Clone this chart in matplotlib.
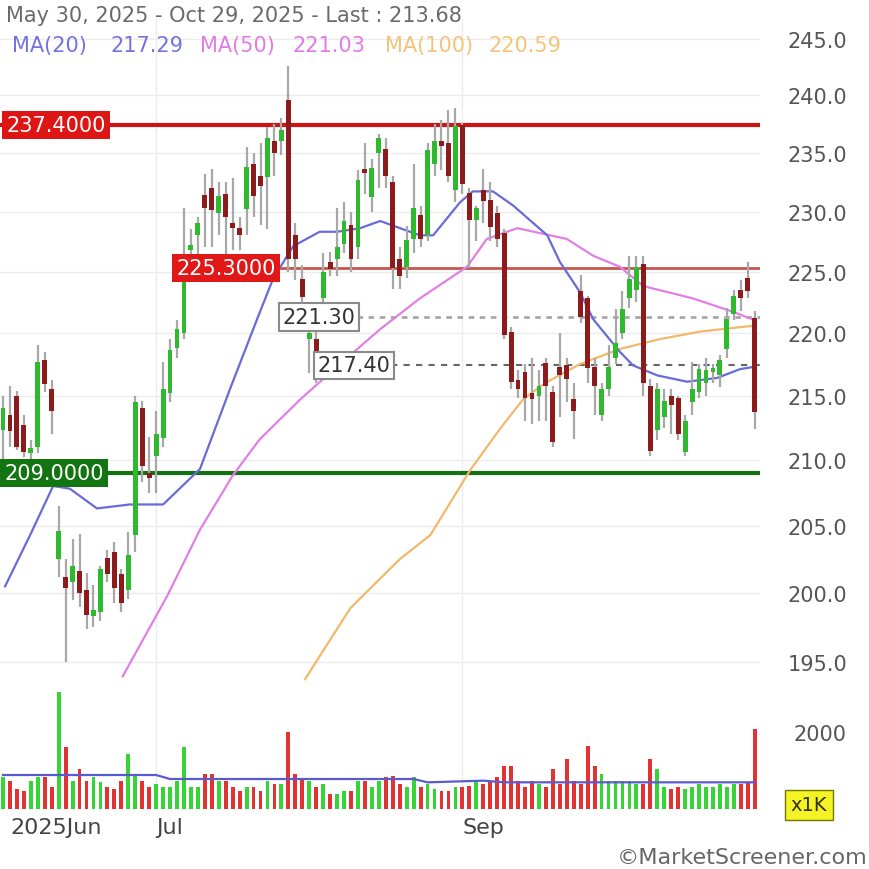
import numpy as np
import pandas as pd
import matplotlib
matplotlib.use("Agg")
import matplotlib.pyplot as plt
import matplotlib.transforms as mtransforms
from matplotlib.ticker import FixedLocator, NullLocator, FuncFormatter

# ---------------- data ----------------
dates = pd.bdate_range("2025-05-30", "2025-10-29")

opens = [212.3, 213.5, 215.0, 212.7, 210.5, 211.0, 217.8, 215.5, 202.5, 201.2,
         200.8, 201.6, 200.2, 198.3, 198.6, 202.6, 203.0, 201.4, 200.2, 204.3,
         214.0, 209.0, 210.3, 211.7, 215.2, 218.8, 220.0, 226.8, 228.0, 231.4,
         232.0, 229.9, 231.5, 229.0, 228.6, 230.2, 234.0, 233.0, 232.9, 236.0,
         236.0, 239.6, 228.0, 224.4, 219.5, 219.5, 222.8, 225.8, 226.0, 227.3,
         228.9, 227.0, 233.6, 231.2, 235.0, 235.3, 232.5, 226.0, 225.4, 227.7,
         229.7, 228.0, 234.0, 236.0, 235.8, 231.8, 237.4, 231.6, 229.3, 231.8,
         231.0, 229.9, 228.2, 220.1, 216.2, 216.9, 215.2, 215.0, 217.6, 215.3,
         217.3, 217.4, 214.7, 223.4, 222.8, 217.3, 213.5, 215.5, 218.0, 220.0,
         222.8, 223.5, 225.6, 215.8, 212.3, 213.3, 215.0, 214.8, 210.6, 214.5,
         215.3, 216.0, 216.9, 216.6, 218.7, 221.5, 223.5, 224.5, 221.2]
highs = [215.0, 215.8, 215.4, 213.5, 211.5, 219.0, 218.5, 216.2, 206.5, 202.5,
         204.0, 204.4, 201.5, 200.6, 202.0, 203.2, 203.8, 201.8, 204.5, 215.0,
         214.6, 211.8, 213.8, 217.7, 219.5, 221.0, 230.3, 228.5, 229.5, 233.2,
         233.6, 232.5, 232.5, 232.8, 229.5, 235.5, 235.0, 235.8, 237.2, 237.5,
         238.0, 242.6, 229.0, 225.5, 220.5, 220.3, 226.5, 226.6, 230.3, 230.8,
         230.0, 233.5, 235.8, 234.5, 236.6, 236.3, 233.0, 227.0, 228.8, 234.0,
         230.5, 235.8, 237.5, 237.8, 238.7, 238.9, 237.6, 232.0, 230.5, 233.6,
         232.5, 230.5, 228.5, 220.5, 217.0, 217.5, 218.0, 217.0, 218.0, 215.8,
         220.0, 218.0, 216.0, 224.7, 223.0, 218.0, 216.0, 219.0, 221.9, 223.4,
         226.3, 226.3, 226.3, 216.3, 216.0, 215.5, 215.5, 215.0, 213.5, 217.7,
         217.5, 218.0, 217.5, 218.2, 222.0, 223.5, 224.3, 225.8, 221.8]
lows = [209.3, 211.0, 210.8, 210.2, 209.8, 210.5, 215.3, 212.0, 201.2, 195.0,
        199.5, 199.0, 197.4, 197.5, 198.0, 200.8, 199.3, 198.6, 199.6, 203.0,
        208.3, 207.5, 207.5, 211.0, 214.5, 218.0, 219.5, 225.5, 226.0, 227.0,
        227.0, 228.0, 226.0, 226.8, 226.8, 228.0, 229.5, 228.9, 228.5, 233.0,
        234.8, 225.0, 224.3, 222.0, 216.8, 216.0, 221.5, 224.6, 224.6, 226.5,
        225.0, 226.0, 231.5, 230.0, 232.0, 232.0, 223.6, 223.6, 224.5, 226.5,
        227.0, 227.5, 233.0, 233.5, 232.5, 230.8, 231.5, 225.3, 227.5, 229.0,
        227.5, 227.0, 219.5, 215.5, 214.8, 213.0, 212.8, 213.0, 213.0, 211.0,
        213.3, 214.5, 211.6, 220.8, 216.0, 213.5, 213.0, 215.0, 217.5, 219.5,
        222.0, 222.5, 215.0, 210.3, 211.5, 212.5, 212.0, 211.5, 210.3, 213.5,
        214.8, 215.0, 216.0, 215.7, 218.0, 221.0, 221.8, 222.8, 212.4]
closes = [214.0, 212.2, 211.0, 210.6, 210.9, 217.7, 215.9, 213.8, 204.6, 200.4,
          202.0, 200.0, 198.4, 198.8, 201.8, 201.4, 200.4, 199.3, 202.8, 214.5,
          209.5, 208.6, 212.0, 215.5, 218.6, 220.3, 224.5, 227.2, 229.0, 230.3,
          230.1, 231.3, 229.5, 228.6, 228.0, 233.8, 231.3, 232.2, 236.3, 235.0,
          237.0, 226.0, 226.0, 222.9, 220.0, 218.5, 225.0, 225.2, 227.0, 229.2,
          226.0, 232.7, 233.3, 233.7, 236.3, 233.0, 225.3, 224.6, 227.6, 230.3,
          227.7, 235.2, 236.0, 235.6, 233.0, 237.3, 232.3, 229.3, 230.3, 230.9,
          228.7, 227.7, 219.8, 216.1, 215.5, 214.8, 214.7, 215.8, 215.8, 211.4,
          216.6, 216.3, 213.8, 221.3, 217.2, 215.8, 215.5, 217.3, 219.2, 221.9,
          224.4, 225.4, 216.0, 210.7, 215.5, 214.6, 214.3, 212.0, 213.0, 215.5,
          217.1, 217.0, 217.0, 217.8, 221.1, 223.0, 222.8, 223.4, 213.68]
volumes = [823, 736, 520, 476, 736, 823, 823, 563, 3031, 1602,
           736, 1039, 736, 823, 693, 563, 520, 736, 1429, 909,
           736, 563, 650, 563, 563, 736, 1602, 563, 563, 909,
           909, 736, 736, 563, 476, 563, 563, 476, 736, 650,
           650, 1992, 909, 779, 736, 563, 650, 390, 390, 476,
           476, 736, 736, 563, 736, 823, 866, 650, 563, 823,
           563, 650, 520, 476, 476, 563, 563, 606, 736, 650,
           736, 823, 1126, 1126, 736, 563, 736, 650, 563, 1039,
           650, 1299, 736, 650, 1645, 1126, 909, 736, 736, 736,
           736, 650, 650, 1299, 1039, 563, 520, 563, 520, 563,
           650, 563, 563, 650, 563, 650, 650, 693, 2078]

# moving averages (candle index, value)
ma20_idx = [0.3, 3.9, 7.2, 9.6, 13.5, 18.2, 23, 28.3, 32.6, 36.5, 38.8, 41.7, 45.5, 48, 51.3,
            54.2, 59.9, 61.8, 65.7, 67.5, 70.4, 73.3, 78.2, 80, 82.9, 84.8, 88.6, 90.5, 94,
            98.3, 102.6, 105.9, 108]
ma20_val = [200.5, 204.3, 208.0, 207.8, 206.3, 206.6, 206.6, 209.3, 215.5, 221.1, 224.4, 227.1,
            228.3, 228.3, 228.6, 229.2, 228.0, 228.0, 230.8, 231.7, 231.7, 230.5, 228.0, 225.8,
            223.3, 221.1, 218.5, 217.4, 216.6, 216.1, 216.4, 217.1, 217.29]
ma50_idx = [17.2, 23.6, 28.3, 33, 36.9, 42.7, 48.4, 54.2, 59.9, 66.7, 69.5, 73.9, 81, 84.8,
            88.6, 92, 99.1, 104.9, 108]
ma50_val = [194.0, 199.8, 204.7, 208.8, 211.6, 214.7, 217.5, 220.3, 222.8, 225.4, 227.7, 228.6,
            227.7, 226.3, 225.4, 223.8, 222.8, 221.7, 221.03]
ma100_idx = [43.4, 49.9, 57, 61.4, 67.1, 71.4, 74.7, 77.9, 82.9, 88.6, 94.4, 100.1, 108]
ma100_val = [193.8, 198.9, 202.5, 204.3, 209.2, 212.4, 214.7, 216.0, 217.5, 218.7, 219.5,
             220.1, 220.59]
vma_idx = [0, 22, 24, 59, 61, 69, 72, 108]
vma_val = [883, 883, 779, 779, 693, 736, 693, 693]

price_ticks = [195, 200, 205, 210, 215, 220, 225, 230, 235, 240, 245]
month_labels = ["2025Jun", "Jul", "Sep"]
month_dates = ["2025-06-02", "2025-07-01", "2025-09-01"]

level_red_hi = 237.40
level_red_mid = 225.30
level_green = 209.00
level_gray1 = 221.30
level_gray2 = 217.40

# ---------------- figure ----------------
W = H = 870
fig = plt.figure(figsize=(8.7, 8.7), dpi=100)
fig.patch.set_facecolor("white")

def fx(px):
    return px / W

def fy(py):
    return 1 - py / H

ax = fig.add_axes([0, fy(690), fx(760), (690 - 20) / H])
axv = fig.add_axes([0, fy(810), fx(760), 120 / H])

n = len(dates)
xs = np.arange(n)
o = np.array(opens); h = np.array(highs); l = np.array(lows); c = np.array(closes)
up = c >= o

GREEN = "#2fb92f"
RED = "#8e1b1b"
WICK = "#a8a8a8"

for a in (ax, axv):
    a.set_xlim(-0.43, 108.76)
    for s in a.spines.values():
        s.set_visible(False)
    a.set_facecolor("white")

ax.set_yscale("log")
ax.set_ylim(193.1, 246.8)
ax.yaxis.set_major_locator(FixedLocator(price_ticks))
ax.yaxis.set_minor_locator(NullLocator())
ax.yaxis.set_major_formatter(FuncFormatter(lambda v, p: f"{v:.1f}"))
ax.yaxis.tick_right()
ax.tick_params(axis="y", length=0, pad=20, labelsize=15, labelcolor="#555555")
ax.tick_params(axis="x", length=0, labelbottom=False)
ax.grid(axis="y", color="#ececec", lw=1)

month_idx = [dates.get_loc(pd.Timestamp(d)) for d in month_dates]
for a in (ax, axv):
    for mi in month_idx[1:]:
        a.axvline(mi, color="#ececec", lw=1, zorder=0)

# horizontal levels
trans = mtransforms.blended_transform_factory(ax.transAxes, ax.transData)
ax.axhline(level_red_hi, color="#cc1414", lw=3, zorder=2)
ax.plot([0.227, 1], [level_red_mid, level_red_mid], transform=trans,
        color="#c9554c", lw=2, zorder=2)
ax.axhline(level_green, color="#137013", lw=3, zorder=2)
ax.plot([0.47, 1], [level_gray1, level_gray1], transform=trans,
        color="#a8a8a8", lw=2, ls=(0, (2, 2)), zorder=2)
ax.plot([0.515, 1], [level_gray2, level_gray2], transform=trans,
        color="#666666", lw=1.5, ls=(0, (3, 3)), zorder=2)

# moving averages
ax.plot(ma100_idx, ma100_val, color="#f3b86b", lw=1.6, zorder=3)
ax.plot(ma50_idx, ma50_val, color="#e27fe6", lw=1.6, zorder=3)
ax.plot(ma20_idx, ma20_val, color="#6a6ad8", lw=1.6, zorder=3)

# candles
ax.vlines(xs, l, h, color=WICK, lw=1.6, zorder=4)
bottoms = np.minimum(o, c)
heights = np.maximum(np.abs(c - o), 0.25)
ax.bar(xs, heights, bottom=bottoms, width=0.7,
       color=[GREEN if u else RED for u in up], zorder=5, linewidth=0)

# level label boxes
box_kw = dict(ha="left", va="center", fontsize=15, zorder=6, transform=trans)
ax.text(0.008, level_red_hi, "237.4000", color="white",
        bbox=dict(boxstyle="square,pad=0.2", fc="#dd1515", ec="none"), **box_kw)
ax.text(0.232, level_red_mid, "225.3000", color="white",
        bbox=dict(boxstyle="square,pad=0.2", fc="#e01818", ec="none"), **box_kw)
ax.text(0.006, level_green, "209.0000", color="white",
        bbox=dict(boxstyle="square,pad=0.2", fc="#127512", ec="none"), **box_kw)
ax.text(0.372, level_gray1, "221.30", color="#333333",
        bbox=dict(boxstyle="square,pad=0.18", fc="white", ec="#8a8a8a", lw=1.5), **box_kw)
ax.text(0.418, level_gray2, "217.40", color="#333333",
        bbox=dict(boxstyle="square,pad=0.18", fc="white", ec="#8a8a8a", lw=1.5), **box_kw)

# volume panel
axv.set_ylim(0, 3117)
vcol = ["#35d535" if u else "#e23232" for u in up]
axv.bar(xs, volumes, width=0.55, color=vcol, linewidth=0, zorder=3)
axv.plot(vma_idx, vma_val, color="#5a5ad0", lw=1.6, zorder=4)
axv.yaxis.tick_right()
axv.yaxis.set_major_locator(FixedLocator([2000]))
axv.yaxis.set_major_formatter(FuncFormatter(lambda v, p: f"{v:.0f}"))
axv.tick_params(axis="y", length=0, pad=24, labelsize=15, labelcolor="#555555")
axv.xaxis.set_major_locator(FixedLocator(month_idx))
axv.set_xticklabels(month_labels)
axv.tick_params(axis="x", length=0, pad=6, labelsize=16, labelcolor="#444444")
for lab in axv.get_xticklabels():
    lab.set_horizontalalignment("left")

fig.text(fx(809), fy(806), "x1K", ha="center", va="center", fontsize=14, color="#333300",
         bbox=dict(boxstyle="square,pad=0.3", fc="#f3f325", ec="#777700", lw=1))

# header
fig.text(fx(6), fy(16), "May 30, 2025 - Oct 29, 2025 - Last : 213.68", ha="left", va="center",
         fontsize=15, color="#6a6a6a")
hdr = [(12, "MA(20)", "#7373e0"), (110, "217.29", "#7373e0"),
       (200, "MA(50)", "#e27be6"), (293, "221.03", "#e27be6"),
       (385, "MA(100)", "#f3c47a"), (488, "220.59", "#f3c47a")]
for px, t, col in hdr:
    fig.text(fx(px), fy(46), t, ha="left", va="center", fontsize=15, color=col)

fig.text(fx(868), fy(858), "©MarketScreener.com", ha="right", va="center",
         fontsize=16, color="#666666")

fig.savefig("out.png", dpi=100, facecolor="white")
